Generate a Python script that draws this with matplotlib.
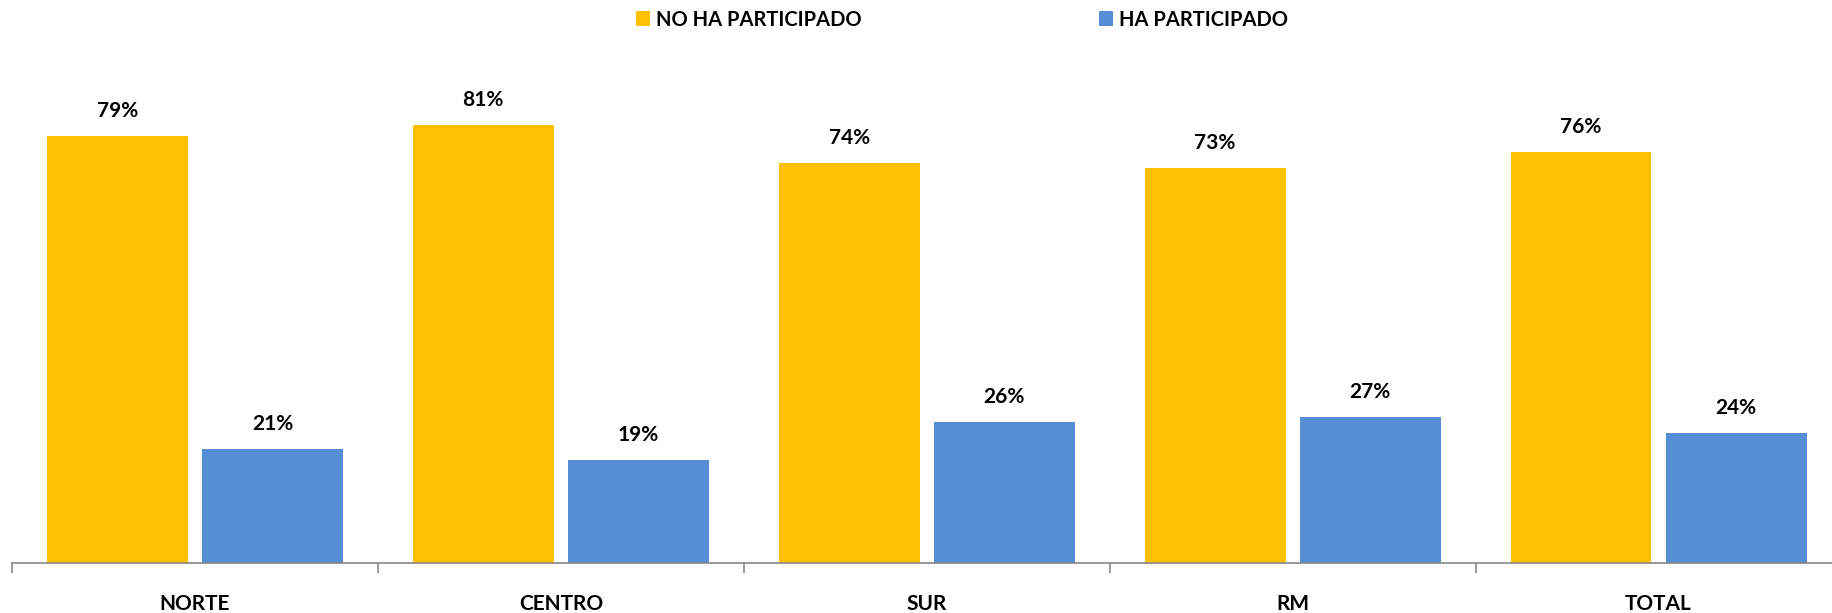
import numpy as np
import matplotlib.pyplot as plt
from matplotlib.ticker import FixedLocator

# ─── Data ────────────────────────────────────────────────────────────
categories = ["NORTE", "CENTRO", "SUR", "RM", "TOTAL"]
no_participado = [79, 81, 74, 73, 76]
si_participado = [21, 19, 26, 27, 24]
series_names = ["NO HA PARTICIPADO", "HA PARTICIPADO"]

YELLOW = "#FFC000"
BLUE = "#558ED5"
FONT = "Lato"

fig = plt.figure(figsize=(18.32, 6.13), dpi=100)
W, H = 1832, 613
# axes: left edge at 12px, baseline at 563px, top at 76px
ax = fig.add_axes([12 / W, (H - 563) / H, (W - 12) / W, (563 - 76) / H])

x = np.arange(len(categories))
bw = 0.385
off = 0.212
b1 = ax.bar(x - off, no_participado, bw, color=YELLOW, label=series_names[0])
b2 = ax.bar(x + off, si_participado, bw, color=BLUE, label=series_names[1])

for bars, vals in ((b1, no_participado), (b2, si_participado)):
    for r, v in zip(bars, vals):
        ax.annotate(f"{v}%", (r.get_x() + r.get_width() / 2, r.get_height()),
                    xytext=(0, 15), textcoords="offset pixels",
                    ha="center", va="bottom", fontsize=15,
                    fontweight="bold", family=FONT)

ax.set_xlim(-0.5, -0.5 + (W - 12) / 365.9)
ax.set_ylim(0, 90)

for s in ("top", "right", "left"):
    ax.spines[s].set_visible(False)
ax.spines["bottom"].set_color("#868686")
ax.spines["bottom"].set_linewidth(1.2)
ax.set_yticks([])

# labels at centres, tick marks at category boundaries
ax.set_xticks(x)
ax.set_xticklabels(categories, fontsize=15, fontweight="bold", family=FONT)
ax.tick_params(axis="x", which="major", length=0, pad=22)
ax.xaxis.set_minor_locator(FixedLocator(np.arange(-0.5, len(categories), 1.0)))
ax.tick_params(axis="x", which="minor", length=7, width=1.2, color="#868686",
               direction="out")

fig.legend(handles=[b1, b2], loc="center", bbox_to_anchor=(962 / W, 1 - 19.5 / H),
           ncol=2, frameon=False, handlelength=0.7, handleheight=0.7,
           handletextpad=0.3, columnspacing=11.8, borderpad=0,
           prop={"family": FONT, "weight": "bold", "size": 14.5})

fig.savefig("out.png", dpi=100)
